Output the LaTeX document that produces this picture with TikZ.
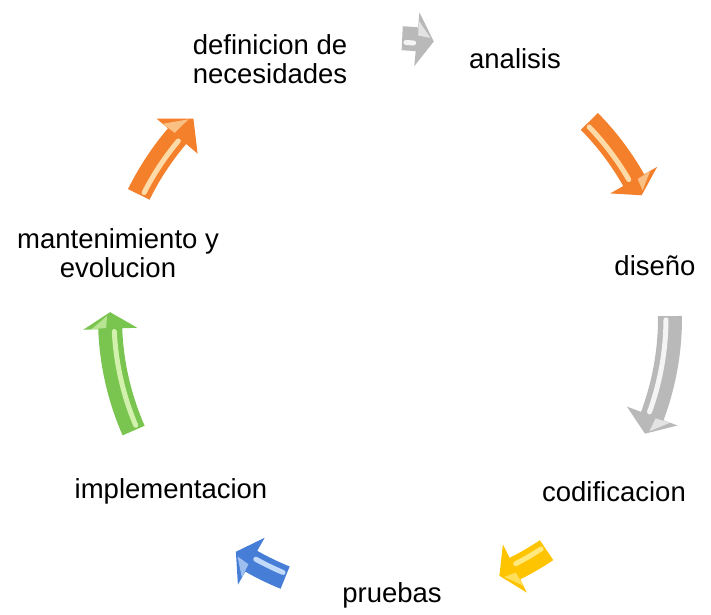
\documentclass[tikz,border=0pt]{standalone}
\usepackage{fontspec}
\setmainfont{Liberation Sans}
\definecolor{cgray}{RGB}{185,185,185}
\definecolor{cgrayd}{RGB}{140,140,140}
\definecolor{corange}{RGB}{244,128,44}
\definecolor{corangel}{RGB}{255,236,190}
\definecolor{cyellow}{RGB}{255,196,0}
\definecolor{cyellowl}{RGB}{255,240,150}
\definecolor{cblue}{RGB}{70,125,215}
\definecolor{cbluel}{RGB}{215,235,255}
\definecolor{cgreen}{RGB}{122,196,80}
\definecolor{cgreenl}{RGB}{225,250,190}
\newcommand\cycarrow[5]{%
  \fill[#4] (#1:292) arc[start angle=#1, end angle=#2, radius=292]
    -- (#2:307) -- (#3:280) -- (#2:253) -- (#2:268)
    arc[start angle=#2, end angle=#1, radius=268] -- cycle;
  \draw[#5, line width=5pt, opacity=0.85, line cap=round]
    (#1-0.8:276) arc[start angle=#1-0.8, end angle=#2+0.6, radius=276];
  \fill[#5, opacity=0.6] (#2:299) -- (#3+0.8:283) -- (#2-0.2:284) -- cycle;
}
\begin{document}
\begin{tikzpicture}[x=1pt, y=1pt,
  lbl/.style={font=\fontsize{27.5}{29}\selectfont, inner sep=0pt, anchor=base, align=center, text=black}]
\useasboundingbox (0,-614) rectangle (711,0);
\fill[white] (0,-614) rectangle (711,0);
\node[lbl] (def) at (270,-83) {definicion de\\necesidades};
\node[lbl] (ana) at (515,-68) {analisis};
\node[lbl] (dis) at (655,-275) {diseño};
\node[lbl] (cod) at (614,-501) {codificacion};
\node[lbl] (pru) at (392,-602) {pruebas};
\node[lbl] (imp) at (171,-498) {implementacion};
\node[lbl] (man) at (118,-277) {mantenimiento y\\evolucion};
\begin{scope}[shift={(390,-318)}]
  \cycarrow{87.5}{84.5}{81}{cgray}{white}
  \cycarrow{44.6}{29.5}{26}{corange}{corangel}
  \cycarrow{0.4}{-20.5}{-24.4}{cgray}{white}
  \cycarrow{-56}{-63.5}{-67}{cyellow}{cyellowl}
  \cycarrow{-112}{-119.7}{-123.4}{cblue}{cbluel}
  \cycarrow{-156.3}{-177.8}{-181.2}{cgreen}{cgreenl}
  \cycarrow{153.8}{139.5}{134.6}{corange}{corangel}
\end{scope}
\end{tikzpicture}
\end{document}
